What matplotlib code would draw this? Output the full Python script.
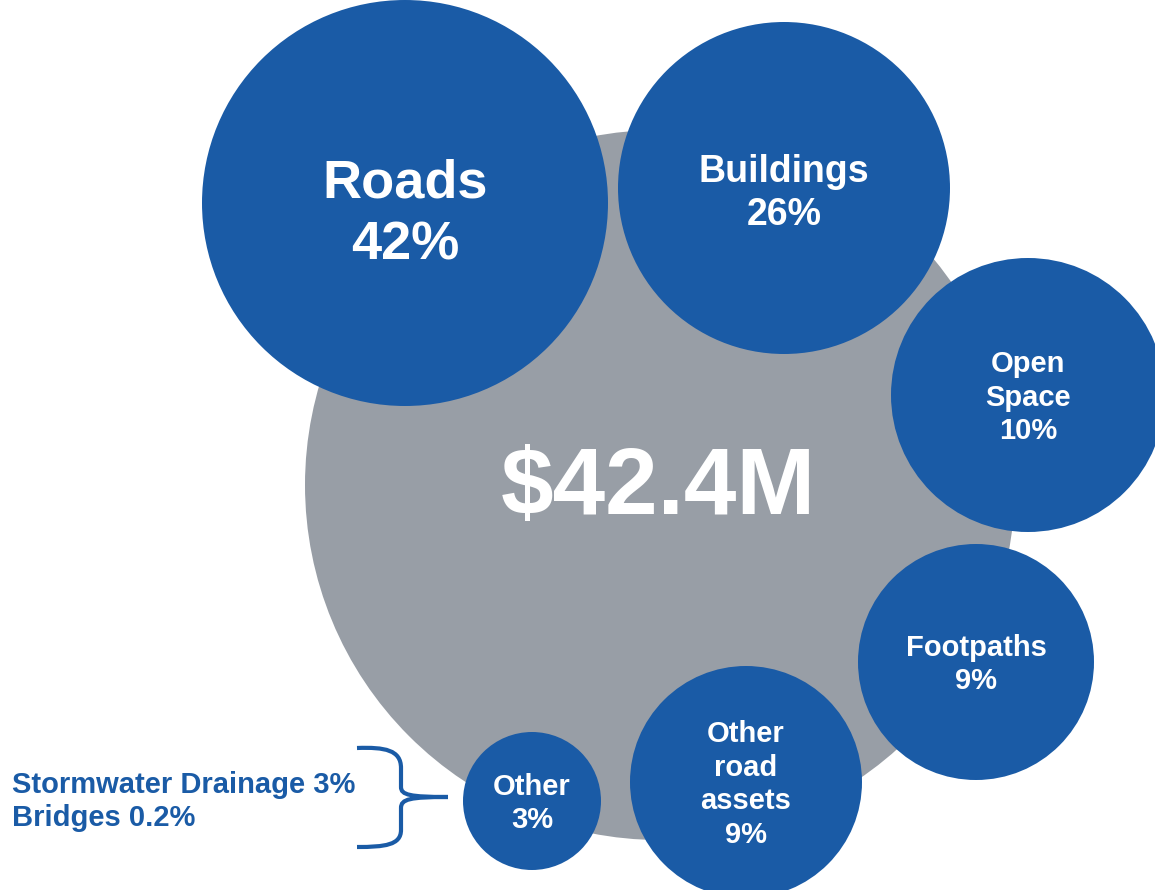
import matplotlib
matplotlib.use("Agg")
import matplotlib.pyplot as plt
from matplotlib.patches import Circle, PathPatch
from matplotlib.path import Path

# ----- data -----
categories = ["Roads", "Buildings", "Open\nSpace", "Footpaths", "Other\nroad\nassets", "Other"]
shares = [42, 26, 10, 9, 9, 3]
total_label = "$42.4M"
other_breakdown = ["Stormwater Drainage 3%", "Bridges 0.2%"]

# ----- layout (pixel space, y down) -----
centers = [(405, 203), (784, 188), (1028, 395), (976, 662), (746, 782), (532, 801)]
radii = [203, 166, 137, 118, 116, 69]
font_sizes = [39, 27, 21, 21, 21, 21]
text_shift = [6, 2, 0, 0, 0, 0]
total_center = (660, 485)
total_radius = 355

BLUE = "#1a5ba6"
GRAY = "#989ea6"
FONT = "Liberation Sans"

W, H = 1155, 890
fig = plt.figure(figsize=(W / 100, H / 100), dpi=100)
ax = fig.add_axes([0, 0, 1, 1])
ax.set_xlim(0, W)
ax.set_ylim(H, 0)
ax.set_aspect("equal")
ax.axis("off")


def put_lines(x, y, lines, size, color, ha="center"):
    em = size * 100 / 72
    step = 1.15 * em
    n = len(lines)
    for i, line in enumerate(lines):
        yy = y + (i - (n - 1) / 2) * step + 0.36 * em
        ax.text(x, yy, line, ha=ha, va="baseline", fontsize=size,
                color=color, fontweight="bold", family=FONT)


# big gray total circle
ax.add_patch(Circle(total_center, total_radius, color=GRAY, lw=0))
put_lines(total_center[0] - 2, total_center[1] - 5, [total_label], 68, "white")

# category bubbles
for cat, pct, c, r, fs, dy in zip(categories, shares, centers, radii, font_sizes, text_shift):
    ax.add_patch(Circle(c, r, color=BLUE, lw=0))
    lines = cat.split("\n") + [f"{pct}%"]
    put_lines(c[0], c[1] + dy, lines, fs, "white")

# brace pointing at "Other"
verts = [
    (357, 748), (385, 747), (401, 750), (401, 768),
    (401, 787),
    (401, 795), (410, 797), (448, 797),
    (410, 797), (401, 799), (401, 808),
    (401, 830),
    (401, 845), (385, 847), (357, 847),
]
codes = [Path.MOVETO, Path.CURVE4, Path.CURVE4, Path.CURVE4,
         Path.LINETO,
         Path.CURVE4, Path.CURVE4, Path.CURVE4,
         Path.CURVE4, Path.CURVE4, Path.CURVE4,
         Path.LINETO,
         Path.CURVE4, Path.CURVE4, Path.CURVE4]
ax.add_patch(PathPatch(Path(verts, codes), facecolor="none", edgecolor=BLUE, lw=3))

put_lines(12, 799, other_breakdown, 21, BLUE, ha="left")

fig.savefig("out.png", dpi=100, facecolor="white")
